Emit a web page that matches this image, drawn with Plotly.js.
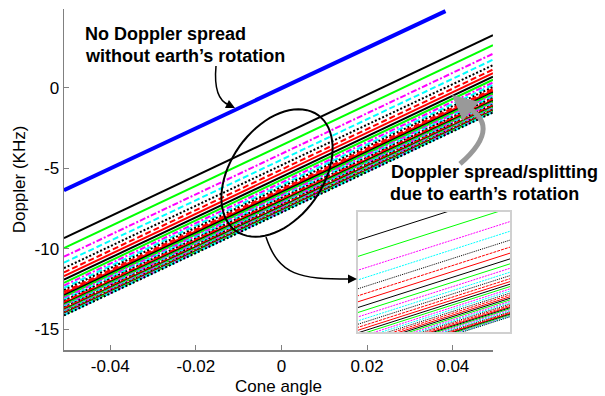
<!DOCTYPE html>
<html>
<head>
<meta charset="utf-8">
<script src="https://cdn.plot.ly/plotly-3.0.1.min.js"></script>
<style>html,body{margin:0;padding:0;background:#fff;}#chart{width:605px;height:396px;}</style>
</head>
<body>
<div id="chart"></div>
<script>
// ---------------- data ----------------
const xEnds = [-0.0508, 0.0494];
const blueX = [-0.0508, 0.0383];
const blueY = [-6.37, 4.77];
// Doppler lines with earth's rotation: value at left edge and right edge (KHz)
const lineStart = [-9.35, -9.97, -10.50, -10.87, -11.21, -11.48, -11.71, -11.93, -12.12, -12.29,
  -12.44, -12.57, -12.69, -12.80, -12.90, -12.99, -13.08, -13.16, -13.24, -13.31,
  -13.38, -13.44, -13.50, -13.56, -13.61, -13.66, -13.71, -13.76, -13.80, -13.84,
  -13.88, -13.92, -13.96, -13.99, -14.02, -14.05, -14.08, -14.11, -14.13, -14.15];
const lineEnd = [3.27, 2.65, 2.12, 1.75, 1.41, 1.14, 0.91, 0.69, 0.50, 0.33,
  0.18, 0.05, -0.07, -0.18, -0.28, -0.37, -0.46, -0.54, -0.62, -0.69,
  -0.76, -0.82, -0.88, -0.94, -0.99, -1.04, -1.09, -1.14, -1.18, -1.22,
  -1.26, -1.30, -1.34, -1.37, -1.40, -1.43, -1.46, -1.49, -1.51, -1.53];
const xTickVals = [-0.04, -0.02, 0, 0.02, 0.04];
const xTickText = ['-0.04', '-0.02', '0', '0.02', '0.04'];
const yTickVals = [-15, -10, -5, 0];
const yTickText = ['-15', '-10', '-5', '0'];

// ---------------- styles ----------------
const cycColors = ['#000000', '#00ff00', '#ff00ff', '#00ffff', '#000000', '#ff0000', '#ff0000'];
const cycDashMain = ['solid', 'solid', '6px,2px,2px,2px', '6px,3px', '2px,2px', '6px,3px', 'solid'];
const cycDashInset = ['solid', 'solid', '2px,1px', '2px,1px', '1px,1px', '3px,1px', 'solid'];

const FONT = 'Liberation Sans, Arial, sans-serif';
const PL = 64, PT = 9, PW = 446, PH = 341;
const px = X => (X - PL) / PW;
const py = Y => (PT + PH - Y) / PH;

const traces = [];
for (let i = 0; i < lineStart.length; i++) {
  const k = i % cycColors.length;
  traces.push({x: xEnds, y: [lineStart[i], lineEnd[i]], mode: 'lines', xaxis: 'x', yaxis: 'y',
    line: {color: cycColors[k], width: 2, dash: cycDashMain[k]}, showlegend: false, hoverinfo: 'skip'});
}
for (let i = 0; i < lineStart.length; i++) {
  const k = i % cycColors.length;
  traces.push({x: xEnds, y: [lineStart[i], lineEnd[i]], mode: 'lines', xaxis: 'x2', yaxis: 'y2',
    line: {color: cycColors[k], width: 1, dash: cycDashInset[k]}, showlegend: false, hoverinfo: 'skip'});
}
traces.push({x: blueX, y: blueY, mode: 'lines', xaxis: 'x', yaxis: 'y',
  line: {color: '#0000ff', width: 4}, showlegend: false, hoverinfo: 'skip'});

// ellipse (decoration) in pixel space -> paper
function ellipsePath(cx, cy, a, b, angDeg) {
  const t = angDeg * Math.PI / 180;
  const u = [Math.cos(t), -Math.sin(t)], v = [Math.sin(t), Math.cos(t)];
  let s = '';
  for (let j = 0; j <= 72; j++) {
    const th = j / 72 * 2 * Math.PI;
    const X = cx + a * Math.cos(th) * u[0] + b * Math.sin(th) * v[0];
    const Y = cy + a * Math.cos(th) * u[1] + b * Math.sin(th) * v[1];
    s += (j === 0 ? 'M ' : ' L ') + px(X).toFixed(4) + ',' + py(Y).toFixed(4);
  }
  return s + ' Z';
}
const P = (X, Y) => px(X).toFixed(4) + ',' + py(Y).toFixed(4);

const shapes = [
  {type: 'path', xref: 'paper', yref: 'paper', path: ellipsePath(277, 173, 71, 46, 54.7),
    line: {color: '#000', width: 2}},
  {type: 'path', xref: 'paper', yref: 'paper', path: 'M ' + P(216, 66) + ' Q ' + P(213, 99) + ' ' + P(229, 105),
    line: {color: '#000', width: 1.5}},
  {type: 'path', xref: 'paper', yref: 'paper', path: 'M ' + P(266, 237) + ' C ' + P(279, 276) + ' ' + P(300, 279) + ' ' + P(350, 279),
    line: {color: '#000', width: 1.5}},
  {type: 'path', xref: 'paper', yref: 'paper', path: 'M ' + P(460, 164) + ' C ' + P(492, 136) + ' ' + P(488, 118) + ' ' + P(465, 106),
    line: {color: '#999999', width: 5}}
];

const txt = (X, Y, s) => ({xref: 'paper', yref: 'paper', x: px(X), y: py(Y), xanchor: 'left', yanchor: 'middle',
  text: s, showarrow: false, font: {family: FONT, size: 18, color: '#000', weight: 'bold'}});
const head = (X, Y, ax, ay, w, c, sz) => ({xref: 'paper', yref: 'paper', x: px(X), y: py(Y), ax: ax, ay: ay,
  text: '', showarrow: true, arrowhead: 2, arrowsize: sz, arrowwidth: w, arrowcolor: c, standoff: 0});

const annotations = [
  txt(83, 34, '<b>No Doppler spread</b>'),
  txt(83, 56, '<b>without earth’s rotation</b>'),
  txt(389, 172, '<b>Doppler spread/splitting</b>'),
  txt(388, 194, '<b>due to earth’s rotation</b>'),
  head(235, 108, -8, -4, 1.5, '#000', 1.2),
  head(357, 279, -8, 0, 1.5, '#000', 1.2),
  head(452, 95, 14, 12, 5, '#999999', 1)
];

const layout = {
  width: 605, height: 396,
  margin: {l: PL, r: 605 - PL - PW, t: PT, b: 396 - PT - PH, pad: 0},
  paper_bgcolor: '#fff', plot_bgcolor: '#fff',
  font: {family: FONT, size: 17, color: '#000'},
  xaxis: {domain: [0, (493 - 64) / PW], range: xEnds, tickvals: xTickVals, ticktext: xTickText,
    showline: true, linecolor: '#808080', linewidth: 1.5, ticks: 'inside', ticklen: 5, tickcolor: '#808080',
    showgrid: false, zeroline: false, tickfont: {size: 17},
    title: {text: 'Cone angle', font: {size: 17}, standoff: 6}},
  yaxis: {domain: [0, 1], range: [-16.3, 4.9], tickvals: yTickVals, ticktext: yTickText,
    showline: true, linecolor: '#808080', linewidth: 1.5, ticks: 'inside', ticklen: 5, tickcolor: '#808080',
    showgrid: false, zeroline: false, tickfont: {size: 17},
    title: {text: 'Doppler (KHz)', font: {size: 17}, standoff: 4}},
  xaxis2: {domain: [px(358), px(510)], anchor: 'y2', range: [-0.005, 0.0098], showticklabels: false, ticks: '',
    showline: true, mirror: true, linecolor: '#d0d0d0', linewidth: 2, showgrid: false, zeroline: false},
  yaxis2: {domain: [py(332), py(212)], anchor: 'x2', range: [-7.1, -2.5], showticklabels: false, ticks: '',
    showline: true, mirror: true, linecolor: '#d0d0d0', linewidth: 2, showgrid: false, zeroline: false},
  shapes: shapes,
  annotations: annotations
};

Plotly.newPlot('chart', traces, layout, {displayModeBar: false, staticPlot: true});
</script>
</body>
</html>
